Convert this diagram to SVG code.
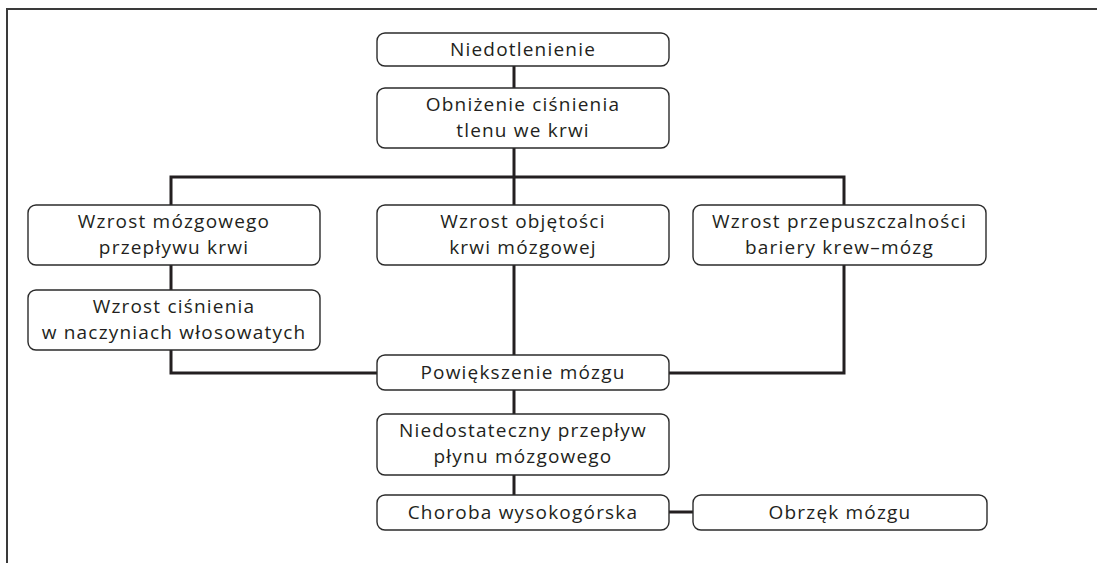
<svg xmlns="http://www.w3.org/2000/svg" width="1097" height="563" viewBox="0 0 1097 563">
<style>
.box{fill:#fff;stroke:#2b2b2b;stroke-width:1.4}
.t{font-family:"Open Sans","Noto Sans",sans-serif;font-size:19px;fill:#231f20;text-anchor:middle;letter-spacing:1.2px}
.c{fill:none;stroke:#231f20;stroke-width:3}
.frame{fill:none;stroke:#3a3a3a;stroke-width:2}
</style>
<rect width="1097" height="563" fill="#fff"/>
<path class="frame" d="M7,563 V9 H1097"/>
<g id="connectors">
<path class="c" d="M514,66 V88"/>
<path class="c" d="M514,148 V205"/>
<path class="c" d="M171,205 V177 H844 V205"/>
<path class="c" d="M171,265 V290"/>
<path class="c" d="M171,350 V373 H377"/>
<path class="c" d="M844,265 V373 H669"/>
<path class="c" d="M514,265 V355"/>
<path class="c" d="M514,390 V414"/>
<path class="c" d="M514,475 V495"/>
<path class="c" d="M669,512 H693"/>
</g>
<g id="n1"><rect class="box" x="377" y="33" width="292" height="33" rx="8"/><text class="t" x="523" y="56">Niedotlenienie</text></g>
<g id="n2"><rect class="box" x="377" y="88" width="292" height="60" rx="8"/><text class="t" x="523" y="111">Obniżenie ciśnienia</text><text class="t" x="523" y="137">tlenu we krwi</text></g>
<g id="n3"><rect class="box" x="28" y="205" width="292" height="60" rx="8"/><text class="t" x="174" y="228">Wzrost mózgowego</text><text class="t" x="174" y="254">przepływu krwi</text></g>
<g id="n4"><rect class="box" x="377" y="205" width="292" height="60" rx="8"/><text class="t" x="523" y="228">Wzrost objętości</text><text class="t" x="523" y="254">krwi mózgowej</text></g>
<g id="n5"><rect class="box" x="693" y="205" width="293" height="60" rx="8"/><text class="t" x="839.5" y="228">Wzrost przepuszczalności</text><text class="t" x="839.5" y="254">bariery krew–mózg</text></g>
<g id="n6"><rect class="box" x="28" y="290" width="292" height="60" rx="8"/><text class="t" x="174" y="313">Wzrost ciśnienia</text><text class="t" x="174" y="339">w naczyniach włosowatych</text></g>
<g id="n7"><rect class="box" x="377" y="355" width="292" height="35" rx="8"/><text class="t" x="523" y="379">Powiększenie mózgu</text></g>
<g id="n8"><rect class="box" x="377" y="414" width="292" height="61" rx="8"/><text class="t" x="523" y="437">Niedostateczny przepływ</text><text class="t" x="523" y="463">płynu mózgowego</text></g>
<g id="n9"><rect class="box" x="377" y="495" width="292" height="35" rx="8"/><text class="t" x="523" y="519">Choroba wysokogórska</text></g>
<g id="n10"><rect class="box" x="693" y="495" width="294" height="35" rx="8"/><text class="t" x="840" y="519">Obrzęk mózgu</text></g>
</svg>
